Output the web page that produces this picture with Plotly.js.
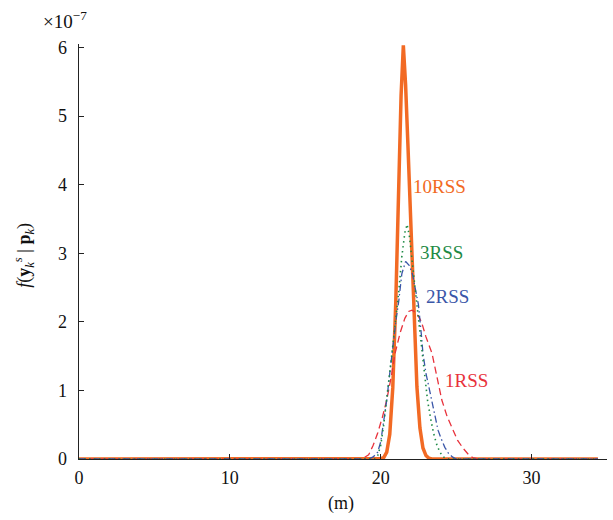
<!DOCTYPE html>
<html>
<head>
<meta charset="utf-8">
<script src="https://cdn.plot.ly/plotly-3.0.1.min.js"></script>
<style>html,body{margin:0;padding:0;background:#fff;}#chart{width:613px;height:520px;}</style>
</head>
<body>
<div id="chart"></div>
<script>
// Values in units of 1e-7
const x10 = [0, 19.6, 19.8, 20.0, 20.2, 20.4, 20.6, 20.8, 21.0, 21.2, 21.35, 21.5, 21.65, 21.8, 22.0, 22.2, 22.4, 22.6, 22.8, 23.0, 23.2, 23.4, 34.4];
const y10 = [0, 0, 0, 0.005, 0.02, 0.1, 0.36, 1.04, 2.3, 4.0, 5.3, 6.03, 5.45, 4.6, 3.3, 2.0, 1.05, 0.45, 0.16, 0.05, 0.01, 0, 0];

const x3 = [0, 19.6, 19.8, 20.0, 20.2, 20.4, 20.6, 20.8, 21.0, 21.2, 21.4, 21.6, 21.75, 21.9, 22.1, 22.3, 22.5, 22.7, 22.9, 23.1, 23.3, 23.5, 23.7, 23.9, 24.1, 24.3, 24.5, 34.4];
const y3 = [0, 0, 0.05, 0.2, 0.5, 0.86, 1.25, 1.65, 2.05, 2.45, 2.95, 3.3, 3.42, 3.25, 2.85, 2.45, 2.02, 1.6, 1.2, 0.86, 0.6, 0.38, 0.22, 0.11, 0.04, 0.01, 0, 0];

const x2 = [0, 19.2, 19.5, 19.8, 20.0, 20.2, 20.4, 20.6, 20.8, 21.0, 21.2, 21.4, 21.65, 21.9, 22.1, 22.3, 22.5, 22.7, 22.8, 23.0, 23.2, 23.4, 23.6, 23.8, 24.0, 24.25, 24.5, 24.75, 25.0, 34.4];
const y2 = [0, 0, 0.03, 0.1, 0.25, 0.55, 0.86, 1.25, 1.65, 2.0, 2.31, 2.7, 2.88, 2.82, 2.7, 2.5, 2.25, 1.8, 1.54, 1.25, 1.05, 0.86, 0.62, 0.42, 0.3, 0.17, 0.08, 0.03, 0, 0];

const x1 = [0, 18.6, 18.9, 19.2, 19.5, 19.8, 20.1, 20.4, 20.7, 20.95, 21.3, 21.6, 21.85, 22.07, 22.3, 22.5, 22.7, 23.0, 23.4, 23.7, 24.05, 24.4, 24.8, 25.1, 25.45, 25.8, 26.1, 26.5, 34.4];
const y1 = [0, 0, 0.02, 0.06, 0.2, 0.38, 0.6, 0.86, 1.2, 1.54, 1.85, 2.05, 2.15, 2.17, 2.14, 2.08, 2.0, 1.78, 1.54, 1.2, 0.86, 0.62, 0.42, 0.27, 0.16, 0.07, 0.02, 0, 0];

const seriesNames = ['10RSS', '1RSS', '2RSS', '3RSS'];
const xTicks = [0, 10, 20, 30];
const yTicks = [0, 1, 2, 3, 4, 5, 6];

const cOrange = '#f26a24', cRed = '#e8323c', cBlue = '#3a56a8', cGreen = '#1e8a45';
const serif = "'Liberation Serif', 'Times New Roman', serif";

const traces = [
  {x: x10, y: y10, name: seriesNames[0], mode: 'lines', line: {color: cOrange, width: 3.5}},
  {x: x1, y: y1, name: seriesNames[1], mode: 'lines', line: {color: cRed, width: 1.3, dash: '7px,4px'}},
  {x: x2, y: y2, name: seriesNames[2], mode: 'lines', line: {color: cBlue, width: 1.3, dash: '7px,3px,1.5px,3px'}},
  {x: x3, y: y3, name: seriesNames[3], mode: 'lines', line: {color: cGreen, width: 1.6, dash: '1.5px,3.5px'}}
];

const layout = {
  width: 613, height: 520,
  margin: {l: 79, r: 6, t: 44, b: 61},
  paper_bgcolor: '#fff', plot_bgcolor: '#fff',
  showlegend: false,
  font: {family: serif, size: 18, color: '#111'},
  xaxis: {
    range: [0, 35], tickvals: xTicks, ticktext: xTicks.map(String),
    tickfont: {family: serif, size: 18, color: '#111'},
    showline: true, linecolor: '#222', linewidth: 1.3,
    ticks: 'inside', ticklen: 5, tickcolor: '#222',
    showgrid: false, zeroline: false, ticklabelstandoff: 2
  },
  yaxis: {
    range: [0, 6.05], tickvals: yTicks, ticktext: yTicks.map(String),
    tickfont: {family: serif, size: 18, color: '#111'},
    showline: true, linecolor: '#222', linewidth: 1.3,
    ticks: 'inside', ticklen: 5, tickcolor: '#222',
    showgrid: false, zeroline: false, ticklabelstandoff: 7
  },
  annotations: [
    {xref: 'paper', yref: 'paper', x: 0.496, y: -0.108, yanchor: 'middle', xanchor: 'center', showarrow: false, text: '(m)', font: {family: serif, size: 18, color: '#111'}},
    {xref: 'paper', yref: 'paper', x: -0.104, y: 0.49, xanchor: 'center', yanchor: 'middle', textangle: -90, showarrow: false,
     text: '<i>f</i>(<b>y</b><sub><i>k</i></sub><sup><i>s</i></sup> | <b>p</b><sub><i>k</i></sub>)', font: {family: serif, size: 18, color: '#111'}},
    {xref: 'paper', yref: 'paper', x: -0.026, y: 1.057, xanchor: 'center', yanchor: 'middle', showarrow: false,
     text: '×10<sup>−7</sup>', font: {family: serif, size: 19, color: '#111'}},
    {x: 23.92, y: 3.97, showarrow: false, text: seriesNames[0], font: {family: serif, size: 19, color: cOrange}},
    {x: 24.06, y: 3.01, showarrow: false, text: seriesNames[3], font: {family: serif, size: 19, color: cGreen}},
    {x: 24.45, y: 2.37, showarrow: false, text: seriesNames[2], font: {family: serif, size: 19, color: cBlue}},
    {x: 25.7, y: 1.14, showarrow: false, text: seriesNames[1], font: {family: serif, size: 19, color: cRed}}
  ]
};

Plotly.newPlot('chart', traces, layout, {displayModeBar: false, staticPlot: true});
</script>
</body>
</html>
